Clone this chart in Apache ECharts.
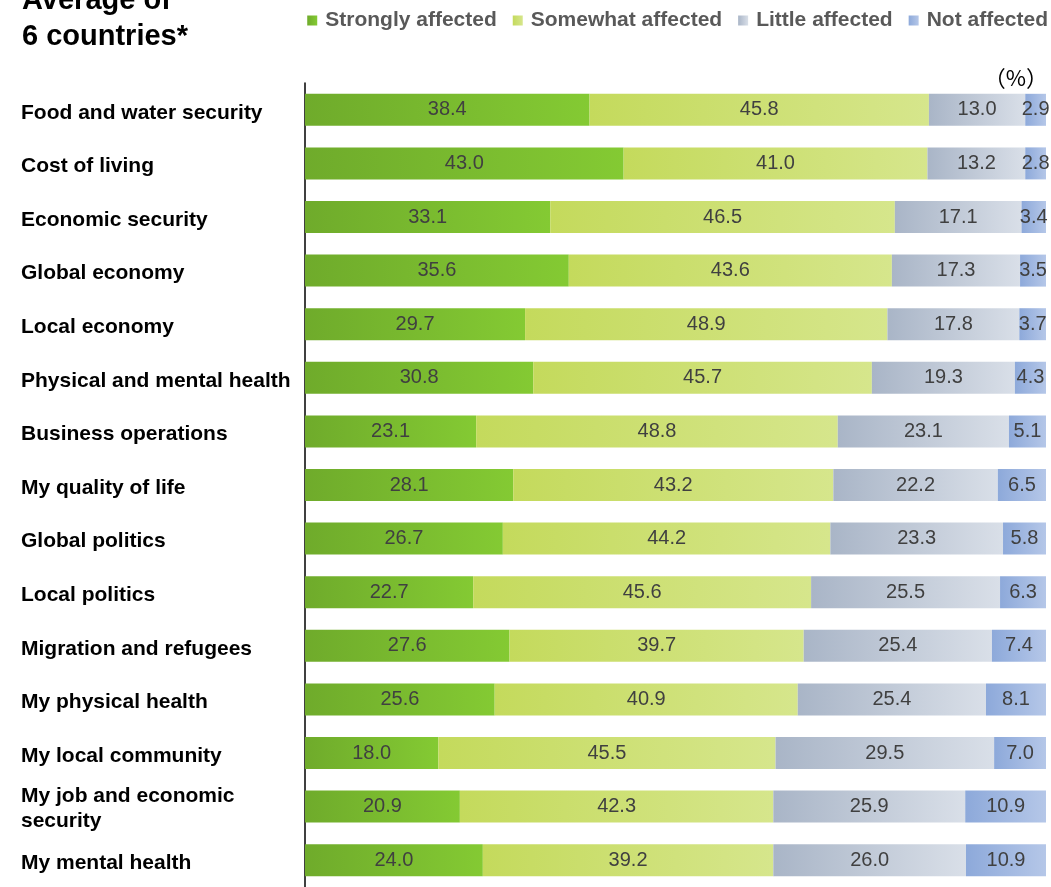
<html>
<head>
<meta charset="UTF-8">
<title>Average of 6 countries</title>
<style>
  html, body { margin: 0; padding: 0; background: #fff; }
  #chart { width: 1051px; height: 887px; }
</style>
</head>
<body>
<div id="chart"></div>
<script src="https://cdn.jsdelivr.net/npm/echarts@6/dist/echarts.min.js"></script>
<script>
var categories = [
  'Food and water security', 'Cost of living', 'Economic security', 'Global economy',
  'Local economy', 'Physical and mental health', 'Business operations', 'My quality of life',
  'Global politics', 'Local politics', 'Migration and refugees', 'My physical health',
  'My local community', 'My job and economic\nsecurity', 'My mental health'
];
var strongly = [38.4, 43.0, 33.1, 35.6, 29.7, 30.8, 23.1, 28.1, 26.7, 22.7, 27.6, 25.6, 18.0, 20.9, 24.0];
var somewhat = [45.8, 41.0, 46.5, 43.6, 48.9, 45.7, 48.8, 43.2, 44.2, 45.6, 39.7, 40.9, 45.5, 42.3, 39.2];
var little   = [13.0, 13.2, 17.1, 17.3, 17.8, 19.3, 23.1, 22.2, 23.3, 25.5, 25.4, 25.4, 29.5, 25.9, 26.0];
var notAff   = [2.9, 2.8, 3.4, 3.5, 3.7, 4.3, 5.1, 6.5, 5.8, 6.3, 7.4, 8.1, 7.0, 10.9, 10.9];
var seriesNames = ['Strongly affected', 'Somewhat affected', 'Little affected', 'Not affected'];

var FONT = 'Liberation Sans, Arial, sans-serif';

function grad(a, b) {
  return new echarts.graphic.LinearGradient(0, 0, 1, 0, [
    { offset: 0, color: a }, { offset: 1, color: b }
  ]);
}
var colors = [
  grad('#6fab2b', '#84ca33'),
  grad('#c4da5c', '#d6e68c'),
  grad('#a9b5c7', '#d9dfe8'),
  grad('#8da9da', '#b5c7e8')
];

function makeSeries(name, data, i) {
  return {
    name: name,
    type: 'bar',
    stack: 'all',
    barWidth: 32,
    data: data,
    itemStyle: { color: colors[i] },
    label: {
      show: true,
      position: 'inside',
      color: '#404040',
      fontFamily: FONT,
      fontSize: 20,
      formatter: function (p) { return p.value.toFixed(1); }
    }
  };
}

var labelText = {
  color: '#000', fontFamily: FONT, fontSize: 21, fontWeight: 'bold', lineHeight: 26
};

var chart = echarts.init(document.getElementById('chart'));
chart.setOption({
  animation: false,
  title: {
    text: 'Average of\n6 countries*',
    left: 22,
    top: -17,
    padding: 0,
    textStyle: {
      fontFamily: FONT,
      fontSize: 29, fontWeight: 'bold', color: '#000', lineHeight: 36
    }
  },
  legend: {
    data: seriesNames,
    right: 3,
    top: 10,
    padding: 0,
    itemWidth: 10,
    itemHeight: 10,
    itemGap: 16,
    icon: 'rect',
    textStyle: {
      fontFamily: FONT,
      fontSize: 21, fontWeight: 'bold', color: '#595959',
      padding: [0, 0, 0, 3]
    }
  },
  graphic: [{
    type: 'text',
    right: 3,
    top: 67,
    style: { text: '（%）', font: '22px "Noto Sans CJK JP", sans-serif', fill: '#000' }
  }],
  grid: { left: 305, right: 5, top: 83, bottom: 0, containLabel: false },
  xAxis: {
    type: 'value', min: 0, max: 100, show: false
  },
  yAxis: {
    type: 'category',
    data: categories,
    inverse: true,
    axisLine: { show: true, lineStyle: { color: '#000', width: 1.5 } },
    axisTick: { show: false },
    axisLabel: {
      align: 'left',
      margin: 284,
      color: '#000',
      fontFamily: FONT,
      fontSize: 21,
      fontWeight: 'bold',
      lineHeight: 26,
      // first line gets a small top pad so text sits a bit below the bar centre
      formatter: function (v) {
        var lines = v.split('\n');
        return lines.map(function (s, k) {
          return (k === 0 ? '{a|' : '{b|') + s + '}';
        }).join('\n');
      },
      rich: {
        a: Object.assign({ padding: [6, 0, 0, 0] }, labelText),
        b: Object.assign({ padding: [4, 0, 0, 0] }, labelText)
      }
    }
  },
  series: [
    makeSeries(seriesNames[0], strongly, 0),
    makeSeries(seriesNames[1], somewhat, 1),
    makeSeries(seriesNames[2], little, 2),
    makeSeries(seriesNames[3], notAff, 3)
  ]
});
</script>
</body>
</html>
